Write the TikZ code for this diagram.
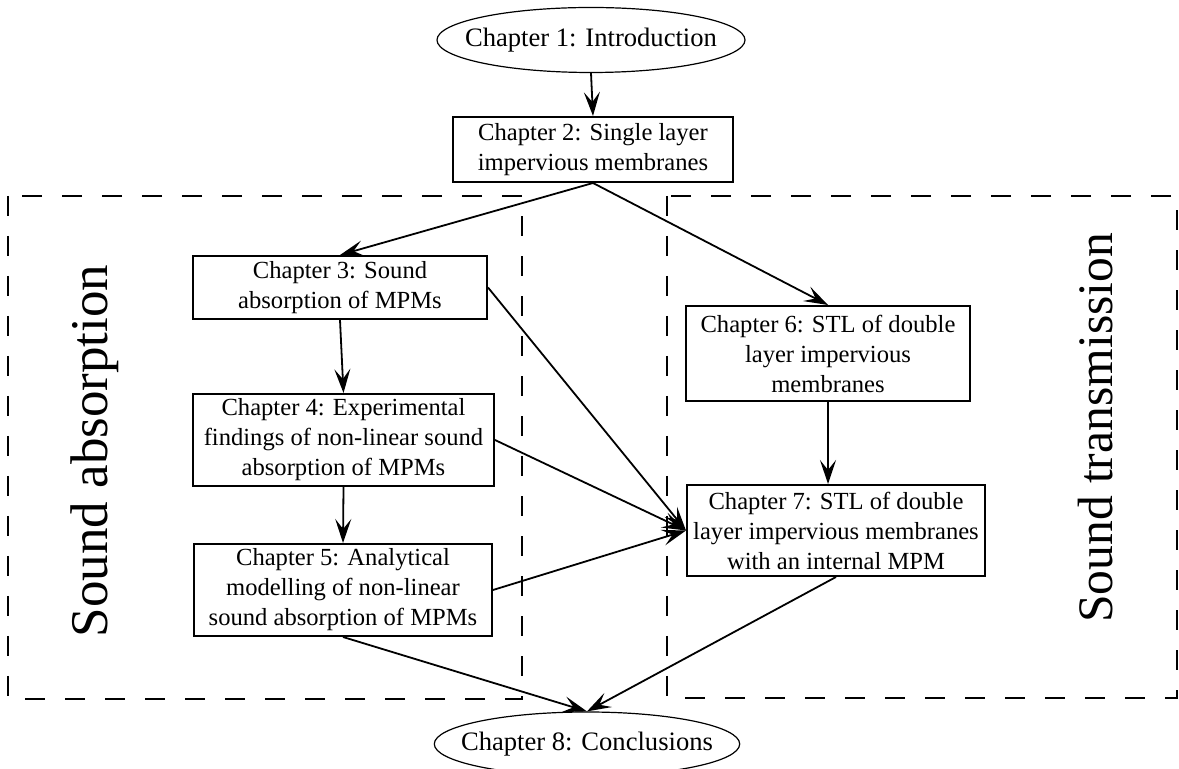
\documentclass[tikz,border=0pt]{standalone}
\usepackage{fontspec}
\setmainfont{Liberation Serif}
\usepackage{tikz}
\usetikzlibrary{arrows.meta}
\usetikzlibrary{shapes.geometric}

\begin{document}
\begin{tikzpicture}[x=0.5pt,y=-0.5pt,
    chapbox/.style={draw,line width=1pt,align=center,inner sep=0pt,
        font=\fontsize{12.3}{15}\selectfont},
    chapoval/.style={draw,ellipse,line width=0.6pt,inner xsep=-9pt,inner ysep=0pt,
        font=\fontsize{13.3}{15}\selectfont},
    flow/.style={line width=0.9pt,-{Stealth[length=12pt,width=8pt,inset=5pt]}},
    part/.style={dash pattern=on 10pt off 10pt,line width=0.7pt},
    parttext/.style={rotate=90}]
\useasboundingbox (0,0) rectangle (1179,769);

% the two parts
\draw [part] (8,196) rectangle (522,699);
\draw [part] (667,196) rectangle (1177,698);
\node (absorb) [parttext,font=\fontsize{26.5}{30}\selectfont] at (95,451) {Sound absorption};
\node (transm) [parttext,font=\fontsize{24.8}{30}\selectfont] at (1096,428) {Sound transmission};

% chapters
\node (ch1) [chapoval,minimum width=154pt,minimum height=32.5pt] at (591,40) {Chapter 1: Introduction};
\node (ch2) [chapbox,minimum width=140pt,minimum height=32.5pt] at (593,149.5) {Chapter 2: Single layer\\impervious membranes};
\node (ch3) [chapbox,minimum width=147pt,minimum height=31.5pt] at (340,287.5) {Chapter 3: Sound\\absorption of MPMs};
\node (ch4) [chapbox,minimum width=150.5pt,minimum height=46pt] at (343.5,440) {Chapter 4: Experimental\\findings of non-linear sound\\absorption of MPMs};
\node (ch5) [chapbox,minimum width=149pt,minimum height=46pt] at (343,590) {Chapter 5: Analytical\\modelling of non-linear\\sound absorption of MPMs};
\node (ch6) [chapbox,minimum width=142pt,minimum height=47.5pt] at (828,353.5) {Chapter 6: STL of double\\layer impervious\\membranes};
\node (ch7) [chapbox,minimum width=149pt,minimum height=45.5pt] at (836,530.5) {Chapter 7: STL of double\\layer impervious membranes\\with an internal MPM};
\node (ch8) [chapoval,minimum width=151pt,minimum height=32pt] at (587,744) {Chapter 8: Conclusions};

% links
\draw [flow] (ch1.south) -- (ch2.north);
\draw [flow] (ch2.south) -- (ch3.north);
\draw [flow] (ch2.south) -- (ch6.north);
\draw [flow] (ch3.south) -- (ch4.north);
\draw [flow] (ch4.south) -- (ch5.north);
\draw [flow] (ch3.east) -- (ch7.west);
\draw [flow] (ch4.east) -- (ch7.west);
\draw [flow] (ch5.east) -- (ch7.west);
\draw [flow] (ch6.south) -- (ch6.south |- ch7.north);
\draw [flow] (ch5.south) -- (ch8.north);
\draw [flow] (ch7.south) -- (ch8.north);
\end{tikzpicture}
\end{document}
